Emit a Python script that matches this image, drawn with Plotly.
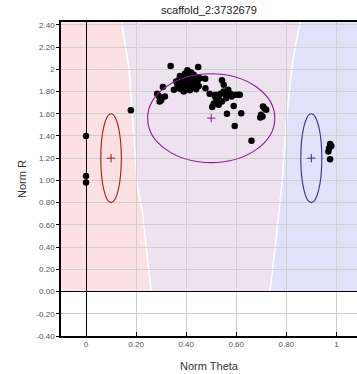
import plotly.graph_objects as go

# ---- data ----
title_text = "scaffold_2:3732679"
x_tick_vals = [0, 0.2, 0.4, 0.6, 0.8, 1.0]
x_tick_text = ["0", "0.20", "0.40", "0.60", "0.80", "1"]
y_tick_vals = [2.4, 2.2, 2.0, 1.8, 1.6, 1.4, 1.2, 1.0, 0.8, 0.6, 0.4, 0.2, 0.0, -0.2, -0.4]
y_tick_text = ["2.40", "2.20", "2", "1.80", "1.60", "1.40", "1.20", "1.00", "0.80",
               "0.60", "0.40", "0.20", "0.00", "-0.20", "-0.40"]

pts_theta = [
    0.0, 0.0, 0.0, 0.179,
    0.284, 0.298, 0.294, 0.315, 0.307, 0.338, 0.351, 0.300, 0.290,
    0.365, 0.370, 0.375, 0.380, 0.385, 0.390, 0.395, 0.400, 0.405, 0.410, 0.415, 0.420,
    0.425, 0.430, 0.435, 0.440, 0.445, 0.450, 0.380, 0.390, 0.400, 0.410, 0.420, 0.430,
    0.370, 0.455, 0.395, 0.415, 0.360, 0.440, 0.448, 0.405,
    0.476, 0.477, 0.494, 0.515, 0.517, 0.530, 0.537, 0.543, 0.550, 0.557, 0.543, 0.510,
    0.504, 0.568, 0.577, 0.582, 0.596, 0.608, 0.614, 0.590, 0.563, 0.620, 0.594, 0.661,
    0.520, 0.550, 0.560, 0.530,
    0.707, 0.720, 0.699, 0.696, 0.705, 0.712,
    0.975, 0.971, 0.968, 0.975, 0.980,
]
pts_r = [
    1.40, 1.04, 0.98, 1.63,
    1.78, 1.74, 1.71, 1.755, 1.84, 2.03, 1.815, 1.72, 1.76,
    1.86, 1.90, 1.94, 1.88, 1.84, 1.92, 1.96, 1.86, 1.82, 1.90, 1.94, 1.88,
    1.84, 1.91, 1.86, 1.82, 1.89, 1.85, 1.82, 1.80, 1.89, 1.85, 1.97, 1.95,
    1.83, 1.92, 1.88, 1.81, 1.89, 1.93, 2.02, 1.99,
    1.915, 1.83, 1.78, 1.755, 1.77, 1.74, 1.78, 1.90, 1.86, 1.77, 1.71, 1.69,
    1.66, 1.815, 1.78, 1.755, 1.77, 1.77, 1.77, 1.67, 1.60, 1.605, 1.49, 1.356,
    1.72, 1.80, 1.74, 1.68,
    1.665, 1.635, 1.59, 1.565, 1.575, 1.65,
    1.327, 1.29, 1.26, 1.19, 1.31,
]

# cluster ellipses: centre theta, centre r, half-width, half-height, colour
cl_theta = [0.10, 0.50, 0.90]
cl_r = [1.20, 1.56, 1.20]
cl_rx = [0.041, 0.254, 0.042]
cl_ry = [0.40, 0.40, 0.40]
cl_color = ["#b01818", "#8a2090", "#303090"]

# background region boundaries
left_bound_r = [2.43, 2.0, 1.4, 0.95, 0.72, 0.0]
left_bound_t = [0.142, 0.172, 0.191, 0.205, 0.225, 0.260]
right_bound_r = [2.43, 2.265, 2.085, 1.845, 1.515, 1.0, 0.51, 0.0]
right_bound_t = [0.856, 0.841, 0.827, 0.814, 0.800, 0.784, 0.761, 0.735]

X_MIN, X_MAX = -0.1, 1.0825
Y_MIN, Y_MAX = -0.4, 2.425
REG_TOP = 2.43

pink = "#fce1e4"
lav = "#eee1f0"
blue = "#e1e1f9"


def path_from(points):
    return "M " + " L ".join(f"{x},{y}" for x, y in points) + " Z"


left_pts = list(zip(left_bound_t, left_bound_r))
right_pts = list(zip(right_bound_t, right_bound_r))

shapes = []
shapes.append(dict(type="path", xref="x", yref="y", layer="below",
                   path=path_from([(X_MIN - 0.2, 0.0), (X_MIN - 0.2, REG_TOP)] + left_pts),
                   fillcolor=pink, line=dict(width=0)))
shapes.append(dict(type="path", xref="x", yref="y", layer="below",
                   path=path_from(left_pts[::-1] + right_pts),
                   fillcolor=lav, line=dict(width=0)))
shapes.append(dict(type="path", xref="x", yref="y", layer="below",
                   path=path_from(right_pts[::-1] + [(X_MAX + 0.2, REG_TOP), (X_MAX + 0.2, 0.0)]),
                   fillcolor=blue, line=dict(width=0)))
for bt, br in ((left_bound_t, left_bound_r), (right_bound_t, right_bound_r)):
    shapes.append(dict(type="path", xref="x", yref="y", layer="below",
                       path="M " + " L ".join(f"{x},{y}" for x, y in zip(bt, br)),
                       line=dict(color="white", width=1.5)))
for cx, cy, rx, ry, c in zip(cl_theta, cl_r, cl_rx, cl_ry, cl_color):
    shapes.append(dict(type="circle", xref="x", yref="y", layer="above",
                       x0=cx - rx, x1=cx + rx, y0=cy - ry, y1=cy + ry,
                       line=dict(color=c, width=1.1)))

fig = go.Figure()
fig.add_trace(go.Scatter(x=pts_theta, y=pts_r, mode="markers",
                         marker=dict(color="black", size=6.5, line=dict(width=0)),
                         hoverinfo="skip", showlegend=False))
fig.add_trace(go.Scatter(x=cl_theta, y=cl_r, mode="markers",
                         marker=dict(symbol="cross-thin", size=6,
                                     line=dict(color=cl_color, width=1)),
                         hoverinfo="skip", showlegend=False))

FONT = "Liberation Sans, Arial, sans-serif"
axis_font = dict(family=FONT, size=8, color="#555555")

fig.update_layout(
    width=357, height=374,
    margin=dict(l=61, r=0, t=22, b=38),
    paper_bgcolor="white", plot_bgcolor="white",
    shapes=shapes,
    showlegend=False,
    title=dict(text=title_text, x=0.5, xanchor="center", xref="paper",
               y=1.0, yref="container", yanchor="top", pad=dict(t=6),
               font=dict(family=FONT, size=11, color="#222222")),
    xaxis=dict(range=[X_MIN, X_MAX], tickvals=x_tick_vals, ticktext=x_tick_text,
               showgrid=True, gridcolor="#cfcfcf", gridwidth=1,
               zeroline=True, zerolinecolor="black", zerolinewidth=1.3,
               showline=True, linecolor="black", linewidth=1.5, mirror=True,
               ticks="inside", ticklen=4, tickcolor="black",
               tickfont=axis_font, automargin=False,
               title=dict(text="Norm Theta", standoff=14,
                          font=dict(family=FONT, size=11, color="#333333"))),
    yaxis=dict(range=[Y_MIN, Y_MAX], tickvals=y_tick_vals, ticktext=y_tick_text,
               showgrid=True, gridcolor="#cfcfcf", gridwidth=1,
               zeroline=True, zerolinecolor="black", zerolinewidth=1.3,
               showline=True, linecolor="black", linewidth=1.5,
               ticks="outside", ticklen=3, tickcolor="black",
               tickfont=axis_font, automargin=False,
               title=dict(text="Norm R", standoff=8,
                          font=dict(family=FONT, size=11, color="#333333"))),
)

fig.write_html("out.html", config={"displayModeBar": False},
               post_script="document.body.style.margin='0px';")
